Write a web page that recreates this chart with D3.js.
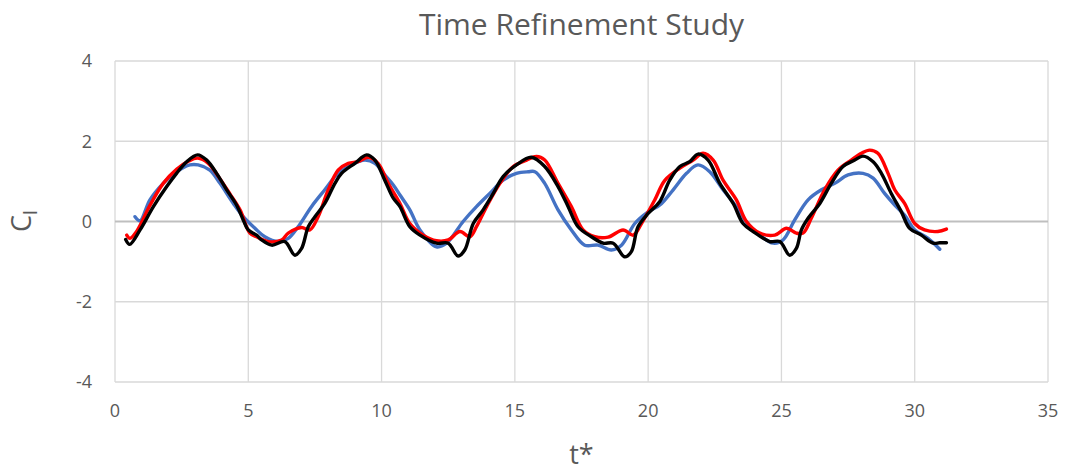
<!DOCTYPE html>
<html>
<head>
<meta charset="utf-8">
<script src="https://cdn.jsdelivr.net/npm/d3@7"></script>
<style>
  body { margin: 0; background: #fff; }
  text { font-family: "Open Sans", "Liberation Sans", sans-serif; fill: #595959; }
</style>
</head>
<body>
<svg id="chart" width="1068" height="471"></svg>
<script>
// values: [t*, Cl]
const blue = [[0.75,0.12],[0.94,0.02],[1.31,0.54],[1.81,0.95],[2.31,1.24],[2.81,1.41],[3.12,1.41],[3.56,1.28],[3.94,0.95],[4.44,0.45],[4.81,0.12],[5.25,-0.17],[5.62,-0.38],[6.12,-0.5],[6.5,-0.42],[6.87,-0.13],[7.37,0.37],[7.87,0.79],[8.37,1.2],[8.87,1.41],[9.37,1.53],[9.75,1.45],[10.12,1.16],[10.44,0.91],[10.69,0.66],[11.06,0.29],[11.44,-0.21],[12.06,-0.63],[12.44,-0.54],[13.06,0.0],[13.56,0.37],[14.06,0.7],[14.56,1.03],[15.06,1.2],[15.5,1.24],[15.75,1.24],[16.12,0.95],[16.62,0.29],[17.12,-0.21],[17.62,-0.59],[18.12,-0.59],[18.62,-0.71],[19.0,-0.59],[19.5,-0.05],[20.0,0.24],[20.44,0.41],[20.94,0.79],[21.44,1.2],[21.87,1.41],[22.31,1.24],[22.81,0.79],[23.31,0.37],[23.81,-0.13],[24.19,-0.34],[24.69,-0.54],[25.06,-0.46],[25.5,0.04],[26.0,0.54],[26.5,0.79],[27.0,0.95],[27.5,1.16],[28.06,1.2],[28.44,1.08],[28.87,0.7],[29.25,0.41],[29.62,0.16],[30.0,-0.21],[30.5,-0.42],[30.94,-0.69]];

const red = [[0.44,-0.34],[0.56,-0.42],[0.81,-0.25],[1.31,0.4],[1.81,0.95],[2.31,1.3],[2.75,1.5],[3.1,1.58],[3.5,1.45],[3.9,1.1],[4.3,0.7],[4.69,0.29],[5.06,-0.29],[5.31,-0.38],[5.75,-0.5],[6.25,-0.46],[6.5,-0.29],[7.0,-0.15],[7.31,-0.21],[7.62,0.12],[8.0,0.79],[8.37,1.28],[8.75,1.45],[9.12,1.49],[9.5,1.6],[9.87,1.45],[10.25,0.95],[10.69,0.45],[11.06,-0.05],[11.56,-0.34],[12.06,-0.48],[12.5,-0.46],[12.94,-0.25],[13.31,-0.38],[13.56,-0.13],[13.94,0.37],[14.44,0.95],[14.94,1.37],[15.44,1.53],[15.81,1.62],[16.12,1.53],[16.62,0.95],[17.12,0.37],[17.56,-0.21],[18.0,-0.38],[18.5,-0.39],[19.06,-0.21],[19.44,-0.34],[19.75,-0.05],[20.25,0.54],[20.62,1.02],[21.19,1.33],[21.69,1.53],[22.06,1.7],[22.44,1.53],[22.81,1.03],[23.31,0.54],[23.69,0.0],[24.19,-0.29],[24.75,-0.34],[25.19,-0.17],[25.56,-0.29],[25.81,-0.29],[26.12,0.08],[26.62,0.79],[27.12,1.28],[27.62,1.53],[28.0,1.7],[28.31,1.78],[28.62,1.7],[29.0,1.2],[29.25,0.79],[29.62,0.45],[30.0,-0.05],[30.37,-0.21],[30.87,-0.25],[31.19,-0.19]];

const black = [[0.4,-0.45],[0.55,-0.57],[0.94,-0.21],[1.44,0.37],[1.94,0.87],[2.31,1.2],[2.69,1.49],[3.1,1.66],[3.44,1.53],[3.81,1.2],[4.19,0.79],[4.56,0.41],[4.81,0.04],[5.0,-0.21],[5.31,-0.34],[5.5,-0.46],[5.88,-0.59],[6.37,-0.5],[6.75,-0.84],[7.0,-0.67],[7.25,-0.13],[7.5,0.12],[7.87,0.45],[8.25,0.95],[8.5,1.2],[9.0,1.45],[9.44,1.66],[9.75,1.53],[10.12,1.03],[10.44,0.58],[10.69,0.37],[11.06,-0.13],[11.44,-0.34],[12.06,-0.54],[12.5,-0.54],[12.87,-0.86],[13.12,-0.71],[13.44,-0.05],[13.81,0.29],[14.19,0.7],[14.56,1.12],[15.06,1.41],[15.62,1.6],[16.12,1.37],[16.62,0.87],[17.0,0.37],[17.37,-0.13],[17.87,-0.38],[18.31,-0.54],[18.69,-0.54],[19.12,-0.88],[19.37,-0.75],[19.62,-0.13],[20.0,0.2],[20.44,0.5],[20.81,1.03],[21.19,1.37],[21.56,1.49],[21.87,1.68],[22.25,1.53],[22.69,0.95],[23.19,0.45],[23.56,-0.05],[23.94,-0.25],[24.56,-0.5],[24.94,-0.5],[25.31,-0.84],[25.56,-0.67],[25.75,-0.21],[26.0,0.08],[26.44,0.45],[26.87,0.95],[27.31,1.37],[27.75,1.53],[28.06,1.63],[28.44,1.49],[28.75,1.2],[29.12,0.7],[29.5,0.24],[29.81,-0.17],[30.25,-0.34],[30.69,-0.54],[30.94,-0.53],[31.19,-0.53]];

const xTicks = [0, 5, 10, 15, 20, 25, 30, 35];
const yTicks = [-4, -2, 0, 2, 4];

const svg = d3.select('#chart');
const mLeft = 115, mRight = 1048, mTop = 61, mBottom = 382;

const x = d3.scaleLinear().domain([0, 35]).range([mLeft, mRight]);
const y = d3.scaleLinear().domain([-4, 4]).range([mBottom, mTop]);

// gridlines
svg.append('g').selectAll('line').data(xTicks).join('line')
  .attr('x1', d => x(d)).attr('x2', d => x(d))
  .attr('y1', mTop).attr('y2', mBottom)
  .attr('stroke', '#d9d9d9').attr('stroke-width', 1.3);
svg.append('g').selectAll('line').data(yTicks).join('line')
  .attr('x1', mLeft).attr('x2', mRight)
  .attr('y1', d => y(d)).attr('y2', d => y(d))
  .attr('stroke', d => d === 0 ? '#bfbfbf' : '#d9d9d9')
  .attr('stroke-width', d => d === 0 ? 1.8 : 1.3);

// tick labels
svg.append('g').selectAll('text').data(yTicks).join('text')
  .attr('x', 92).attr('y', d => y(d))
  .attr('dy', '0.35em').attr('text-anchor', 'end')
  .attr('font-size', 18).text(d => d);
svg.append('g').selectAll('text').data(xTicks).join('text')
  .attr('x', d => x(d)).attr('y', 411)
  .attr('dy', '0.35em').attr('text-anchor', 'middle')
  .attr('font-size', 18).text(d => d);

// titles
svg.append('text').attr('x', (mLeft + mRight) / 2).attr('y', 35)
  .attr('text-anchor', 'middle').attr('font-size', 30)
  .text('Time Refinement Study');
svg.append('text').attr('x', (mLeft + mRight) / 2).attr('y', 464)
  .attr('text-anchor', 'middle').attr('font-size', 27)
  .text('t*');
const yl = svg.append('text').attr('transform', 'translate(31,221) rotate(-90)')
  .attr('text-anchor', 'middle').attr('font-size', 27);
yl.append('tspan').text('C');
yl.append('tspan').attr('font-size', 19).attr('dy', 6).text('l');

const line = d3.line().x(d => x(d[0])).y(d => y(d[1])).curve(d3.curveCatmullRom.alpha(0.5));

[[blue, '#4472c4'], [red, '#ff0000'], [black, '#000000']].forEach(([s, c]) => {
  svg.append('path').datum(s)
    .attr('d', line)
    .attr('fill', 'none')
    .attr('stroke', c)
    .attr('stroke-width', 3.4)
    .attr('stroke-linejoin', 'round')
    .attr('stroke-linecap', 'round');
});
</script>
</body>
</html>
